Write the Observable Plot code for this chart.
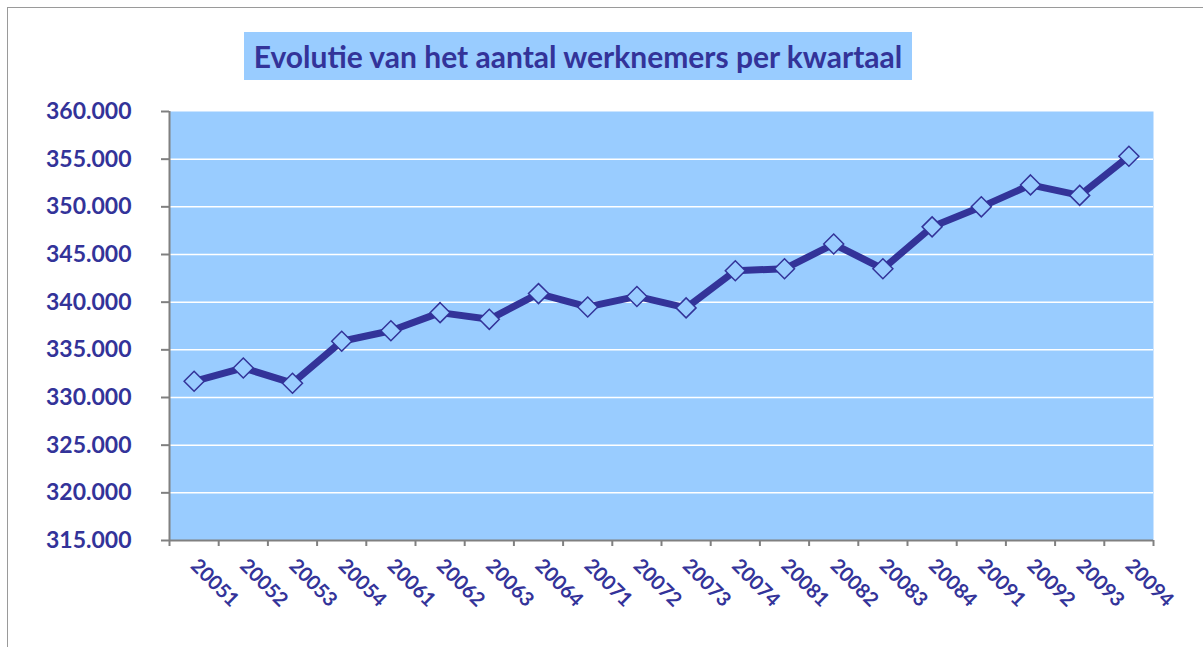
<!DOCTYPE html>
<html><head><meta charset="utf-8">
<script src="https://cdn.jsdelivr.net/npm/d3@7"></script>
<script src="https://cdn.jsdelivr.net/npm/@observablehq/plot@0.6"></script>
<style>
body{margin:0;background:#fff;}
#wrap{position:relative;width:1203px;height:647px;overflow:hidden;font-family:Lato,sans-serif;}
#border{position:absolute;left:7px;top:7px;width:1300px;height:700px;border:1.5px solid #9a9a9a;}
#title{position:absolute;left:244px;top:32px;width:668px;height:48px;background:#99ccff;color:#333399;font-weight:bold;font-size:30px;line-height:48px;text-align:center;white-space:nowrap;}
#chart{position:absolute;left:0;top:0;}
</style></head><body>
<div id="wrap"><div id="border"></div><div id="chart"></div><div id="title">Evolutie van het aantal werknemers per kwartaal</div></div>
<script>
const quarters = ["20051","20052","20053","20054","20061","20062","20063","20064","20071","20072","20073","20074","20081","20082","20083","20084","20091","20092","20093","20094"];
const workers = [331700,333100,331500,335900,337000,338900,338200,340900,339500,340600,339400,343300,343500,346100,343500,347900,350000,352300,351200,355300];
const yTicks = [315000,320000,325000,330000,335000,340000,345000,350000,355000,360000];

const data = quarters.map((q, i) => ({pos: i + 0.5, q, v: workers[i]}));
const fmt = d => d3.format(",")(d).replace(/,/g, ".");
const dark = "#333399";

const chart = Plot.plot({
  width: 1203, height: 647,
  marginLeft: 169, marginRight: 50, marginTop: 111, marginBottom: 107,
  style: {fontFamily: "Lato, sans-serif", background: "transparent", overflow: "visible"},
  x: {domain: [0, quarters.length]},
  y: {domain: [315000, 360000]},
  marks: [
    Plot.frame({fill: "#99ccff", stroke: null}),
    Plot.gridY(yTicks.slice(1, -1), {stroke: "#ffffff", strokeOpacity: 1, strokeWidth: 1.5}),
    Plot.axisY(yTicks, {tickSize: 8, tickPadding: 30, tickFormat: fmt, fontSize: 23, fontWeight: "bold", fill: dark, stroke: "#808080", strokeWidth: 2, label: null}),
    Plot.axisX(d3.range(quarters.length + 1), {tickSize: 6, tickFormat: () => "", stroke: "#808080", strokeWidth: 2, label: null}),
    Plot.axisX(data.map(d => d.pos), {tickSize: 0, tickPadding: 22, tickRotate: 45, tickFormat: d => quarters[Math.floor(d)], fontSize: 20, fontWeight: "bold", fill: dark, label: null}),
    Plot.ruleX([0], {stroke: "#808080", strokeWidth: 2}),
    Plot.ruleY([315000], {stroke: "#808080", strokeWidth: 2}),
    Plot.line(data, {x: "pos", y: "v", stroke: dark, strokeWidth: 7, strokeLinejoin: "round"}),
    Plot.dot(data, {x: "pos", y: "v", symbol: "diamond2", r: 9, fill: "#99ccff", stroke: dark, strokeWidth: 1.5})
  ]
});
document.getElementById("chart").appendChild(chart);
</script>
</body></html>
